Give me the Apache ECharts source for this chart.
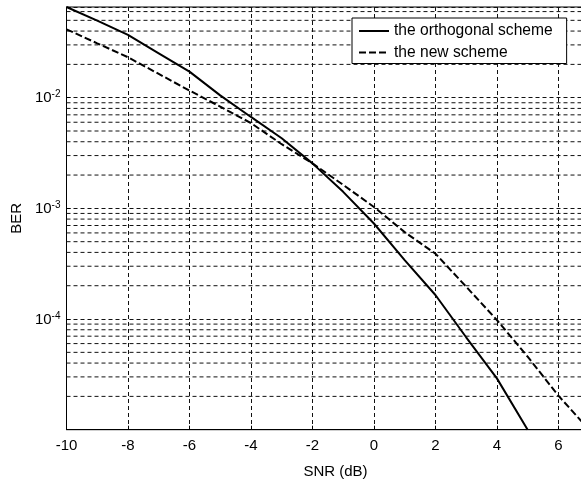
<!DOCTYPE html>
<html>
<head>
<meta charset="utf-8">
<script src="https://cdn.jsdelivr.net/npm/echarts@6/dist/echarts.min.js"></script>
<style>
html,body{margin:0;padding:0;background:#fff;}
#chart{width:581px;height:487px;}
</style>
</head>
<body>
<div id="chart"></div>
<script>
// Data
const snrOrthogonal = [-10, -9, -8, -7, -6, -5, -4, -3, -2, -1, 0, 1, 2, 3, 4, 5];
const berOrthogonal = [0.066, 0.0497, 0.0369, 0.0252, 0.0172, 0.0105, 0.0067, 0.0043, 0.00255, 0.00141, 7.3e-4, 3.41e-4, 1.65e-4, 6.84e-5, 2.91e-5, 1.0e-5];
const snrNew = [-10, -9, -8, -7, -6, -5, -4, -3, -2, -1, 0, 1, 2, 3, 4, 5, 6, 7];
const berNew = [0.0415, 0.031, 0.0232, 0.0164, 0.0116, 0.0083, 0.0059, 0.0038, 0.00255, 0.00163, 1.03e-3, 6.1e-4, 3.9e-4, 1.96e-4, 9.8e-5, 4.57e-5, 2.03e-5, 1.0e-5];
const seriesNames = ['the orthogonal scheme', 'the new scheme'];
const xTickLabels = ['-10', '-8', '-6', '-4', '-2', '0', '2', '4', '6'];
const yDecadeLabels = [-2, -3, -4];
const xMin = -10, xMax = 7.5;
const yMin = 1e-5, yMax = 0.066;
// minor log gridlines (2..9 x each decade)
const decades = [-5, -4, -3, -2];
const multipliers = [2, 3, 4, 5, 6, 7, 8, 9];

const minorGrid = [];
decades.forEach(d => multipliers.forEach(m => {
  const v = m * Math.pow(10, d);
  if (v < yMax) minorGrid.push(v);
}));

const FONT = '"Liberation Sans", Arial, Helvetica, sans-serif';
const GRID_COLOR = '#111';
const GRID_DASH = [4, 3];
const gridStyle = { color: GRID_COLOR, width: 1, type: GRID_DASH };

const chart = echarts.init(document.getElementById('chart'), null, { renderer: 'canvas' });
chart.setOption({
  animation: false,
  backgroundColor: '#fff',
  textStyle: { fontFamily: FONT, color: '#000' },
  grid: {
    left: 66.5, top: 7, bottom: 57.3, right: -23.5,
    containLabel: false,
    outerBoundsMode: 'none',
    show: true, borderColor: '#000', borderWidth: 1, backgroundColor: 'transparent'
  },
  legend: {
    left: 352, top: 18,
    orient: 'vertical',
    backgroundColor: '#fff',
    borderColor: '#000', borderWidth: 1, borderRadius: 0,
    padding: [5, 14, 3, 6],
    itemWidth: 30, itemHeight: 15, itemGap: 5.5,
    itemStyle: { color: 'rgba(0,0,0,0)', borderColor: 'rgba(0,0,0,0)', borderWidth: 0, opacity: 0 },
    textStyle: { fontFamily: FONT, fontSize: 15.6, color: '#000', lineHeight: 15 },
    data: seriesNames,
    z: 10
  },
  xAxis: {
    type: 'value',
    min: xMin, max: xMax, interval: 2,
    name: 'SNR (dB)', nameLocation: 'middle', nameGap: 35,
    nameTextStyle: { fontFamily: FONT, fontSize: 15, color: '#000' },
    axisLine: { show: true, onZero: false, lineStyle: { color: '#000', width: 1 } },
    axisTick: { show: true, inside: true, length: 4, lineStyle: { color: '#000' } },
    axisLabel: {
      fontFamily: FONT, fontSize: 15, color: '#000', margin: 9,
      formatter: v => (xTickLabels.indexOf(String(v)) >= 0 ? String(v) : '')
    },
    splitLine: { show: true, lineStyle: gridStyle }
  },
  yAxis: {
    type: 'log', logBase: 10,
    min: yMin, max: yMax,
    name: 'BER', nameLocation: 'middle', nameGap: 34,
    nameTextStyle: { fontFamily: FONT, fontSize: 15, color: '#000' },
    axisLine: { show: true, onZero: false, lineStyle: { color: '#000', width: 1 } },
    axisTick: { show: true, inside: true, length: 4, lineStyle: { color: '#000' } },
    axisLabel: {
      fontFamily: FONT, color: '#000', margin: 6,
      formatter: v => {
        const e = Math.log10(v);
        const r = Math.round(e);
        if (Math.abs(e - r) > 1e-6 || yDecadeLabels.indexOf(r) < 0) return '';
        return '{b|10}{s|' + r + '}';
      },
      rich: {
        b: { fontFamily: FONT, fontSize: 15, color: '#000', lineHeight: 16, verticalAlign: 'bottom' },
        s: { fontFamily: FONT, fontSize: 10, color: '#000', lineHeight: 11, verticalAlign: 'top', padding: [0, 0, 10, 0] }
      }
    },
    splitLine: { show: true, lineStyle: gridStyle }
  },
  series: [
    {
      name: 'minor-grid',
      type: 'custom',
      silent: true,
      clip: true,
      z: 1,
      data: minorGrid.map(v => [xMin, v]),
      encode: { x: 0, y: 1 },
      renderItem: (params, api) => {
        const v = api.value(1);
        const p1 = api.coord([xMin, v]);
        const p2 = api.coord([xMax, v]);
        return {
          type: 'line',
          silent: true,
          shape: { x1: p1[0], y1: p1[1], x2: p2[0], y2: p2[1] },
          style: { stroke: GRID_COLOR, lineWidth: 1, lineDash: GRID_DASH, fill: null }
        };
      }
    },
    {
      name: seriesNames[0],
      type: 'line',
      data: snrOrthogonal.map((x, i) => [x, berOrthogonal[i]]),
      symbol: 'none',
      lineStyle: { color: '#000', width: 2, type: 'solid' },
      itemStyle: { color: '#000' },
      z: 5
    },
    {
      name: seriesNames[1],
      type: 'line',
      data: snrNew.map((x, i) => [x, berNew[i]]),
      symbol: 'none',
      lineStyle: { color: '#000', width: 2, type: [7, 3] },
      itemStyle: { color: '#000' },
      z: 5
    }
  ]
});
</script>
</body>
</html>
